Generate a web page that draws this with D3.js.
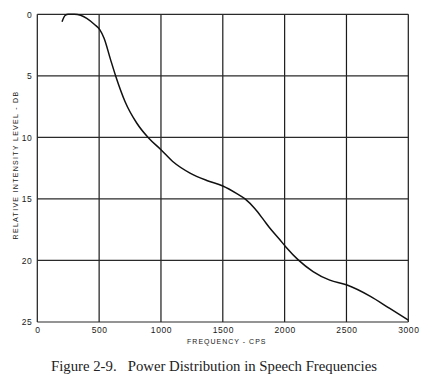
<!DOCTYPE html>
<html>
<head>
<meta charset="utf-8">
<script src="https://cdn.jsdelivr.net/npm/d3@7"></script>
<style>
  body { margin: 0; background: #fff; }
  svg { display: block; }
</style>
</head>
<body>
<svg width="430" height="380"></svg>
<script>
// values (frequency in cps, relative level in dB)
const freq = [200, 225, 250, 300, 350, 400, 465, 505, 540, 590, 635, 710, 805, 900, 1000,
  1100, 1235, 1370, 1500, 1610, 1680, 1760, 1830, 1875, 1960, 2010, 2110, 2230, 2365,
  2505, 2690, 2850, 3000];
const level = [0.6, 0.1, 0, 0, 0.08, 0.33, 0.85, 1.25, 1.95, 3.6, 5.05, 7.1, 8.85, 10.05, 11.0,
  12.0, 12.9, 13.5, 13.95, 14.55, 15.0, 15.8, 16.7, 17.3, 18.3, 18.9, 19.95, 20.9, 21.6,
  22.0, 22.9, 23.9, 24.85];
const xTicks = [0, 500, 1000, 1500, 2000, 2500, 3000];
const yTicks = [0, 5, 10, 15, 20, 25];

const svg = d3.select('svg');
const margin = { left: 37.3, right: 430 - 408.3, top: 14.3, bottom: 380 - 322 };
const width = 430, height = 380;
const labelFont = 'Liberation Sans, Arial, sans-serif';

const x = d3.scaleLinear().domain([0, 3000]).range([margin.left, width - margin.right]);
const y = d3.scaleLinear().domain([0, 25]).range([margin.top, height - margin.bottom]);

const g = svg.append('g');

// grid lines
g.selectAll('.vgrid')
  .data(xTicks)
  .enter()
  .append('line')
  .attr('class', 'vgrid')
  .attr('x1', (d) => x(d)).attr('x2', (d) => x(d))
  .attr('y1', y(0)).attr('y2', y(25))
  .attr('stroke', '#1a1a1a')
  .attr('stroke-width', 1.2);

g.selectAll('.hgrid')
  .data(yTicks)
  .enter()
  .append('line')
  .attr('class', 'hgrid')
  .attr('x1', x(0)).attr('x2', x(3000))
  .attr('y1', (d) => y(d)).attr('y2', (d) => y(d))
  .attr('stroke', '#2a2a2a')
  .attr('stroke-width', 1.2);

// axes, used only for the tick labels
const xAxis = g.append('g')
  .attr('transform', `translate(0,${y(25) + 5})`)
  .call(d3.axisBottom(x).tickValues(xTicks).tickSize(0).tickPadding(0).tickFormat(d3.format('d')));
const yAxis = g.append('g')
  .attr('transform', `translate(${x(0) - 5},0)`)
  .call(d3.axisLeft(y).tickValues(yTicks).tickSize(0).tickPadding(0));

[xAxis, yAxis].forEach((a) => {
  a.select('.domain').remove();
  a.selectAll('text')
    .attr('font-family', labelFont)
    .attr('font-size', 8.5)
    .attr('letter-spacing', 0.6)
    .attr('fill', '#1a1a1a');
});
yAxis.selectAll('text').attr('dy', '0.35em');

// the curve
const line = d3.line()
  .x((d, i) => x(freq[i]))
  .y((d) => y(d))
  .curve(d3.curveMonotoneX);

g.append('path')
  .datum(level)
  .attr('d', line)
  .attr('fill', 'none')
  .attr('stroke', '#111')
  .attr('stroke-width', 1.5);

// axis titles
g.append('text')
  .attr('x', (x(0) + x(3000)) / 2 + 4)
  .attr('y', 344)
  .attr('text-anchor', 'middle')
  .attr('font-family', labelFont)
  .attr('font-size', 7)
  .attr('letter-spacing', 1)
  .attr('fill', '#1a1a1a')
  .text('FREQUENCY - CPS');

g.append('text')
  .attr('transform', `translate(18,${165}) rotate(-90)`)
  .attr('text-anchor', 'middle')
  .attr('font-family', labelFont)
  .attr('font-size', 7)
  .attr('letter-spacing', 1.3)
  .attr('fill', '#1a1a1a')
  .text('RELATIVE  INTENSITY  LEVEL - DB');

// caption
g.append('text')
  .attr('x', 51)
  .attr('y', 371)
  .attr('font-family', 'Liberation Serif, Times New Roman, serif')
  .attr('font-size', 14.5)
  .attr('fill', '#222')
  .attr('textLength', 326)
  .attr('lengthAdjust', 'spacingAndGlyphs')
  .style('white-space', 'pre')
  .text('Figure 2-9.   Power Distribution in Speech Frequencies');
</script>
</body>
</html>
